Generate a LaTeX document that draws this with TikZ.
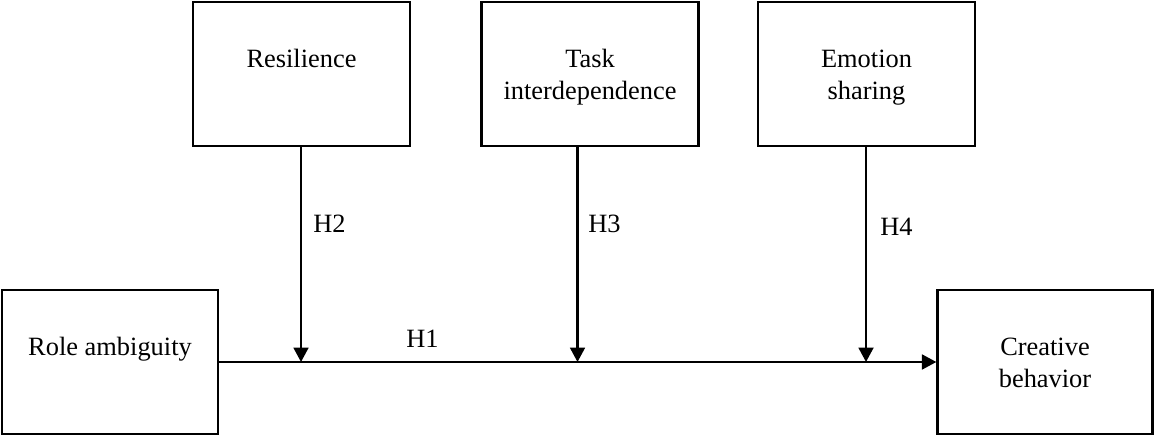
\documentclass[tikz,border=0pt]{standalone}
\usepackage{fontspec}
\setmainfont{Liberation Serif}
\usetikzlibrary{arrows.meta}
\newcommand{\stk}[1]{\begin{tabular}[t]{@{}c@{}}#1\end{tabular}}
\begin{document}
\begin{tikzpicture}[x=0.5pt,y=-0.5pt,
  box/.style={draw=black,line width=1.15pt,inner sep=0pt,minimum width=108.5pt,
    text height=33pt,text depth=39pt,
    font=\fontsize{13.2}{15.8}\selectfont},
  arr/.style={draw=black,line width=1.2pt,-{Triangle[length=7.2pt,width=7.4pt]}},
  lab/.style={anchor=base west,inner sep=0pt,font=\fontsize{13.2}{15.8}\selectfont}]
\useasboundingbox (0,0) rectangle (1154,437);
\node[box] (res)  at (301.5,74) {\stk{Resilience}};
\node[box] (task) at (590,74)   {\stk{Task\\interdependence}};
\node[box] (emo)  at (866.5,74) {\stk{Emotion\\sharing}};
\node[box,minimum width=108pt] (role) at (110,362) {\stk{Role ambiguity}};
\node[box,minimum width=107.5pt] (crea) at (1045,362) {\stk{Creative\\behavior}};
\coordinate (j1) at (301,362);
\coordinate (j2) at (577.5,362);
\coordinate (j3) at (866,362);
\draw[arr] (role.east) -- (crea.west);
\draw[arr] (res.south -| j1) -- (j1);
\draw[arr] (task.south -| j2) -- (j2);
\draw[arr] (emo.south -| j3) -- (j3);
\node[lab] (h1) at (406,347.5) {H1};
\node[lab] (h2) at (313,233) {H2};
\node[lab] (h3) at (588,233) {H3};
\node[lab] (h4) at (880,236) {H4};
\end{tikzpicture}
\end{document}
